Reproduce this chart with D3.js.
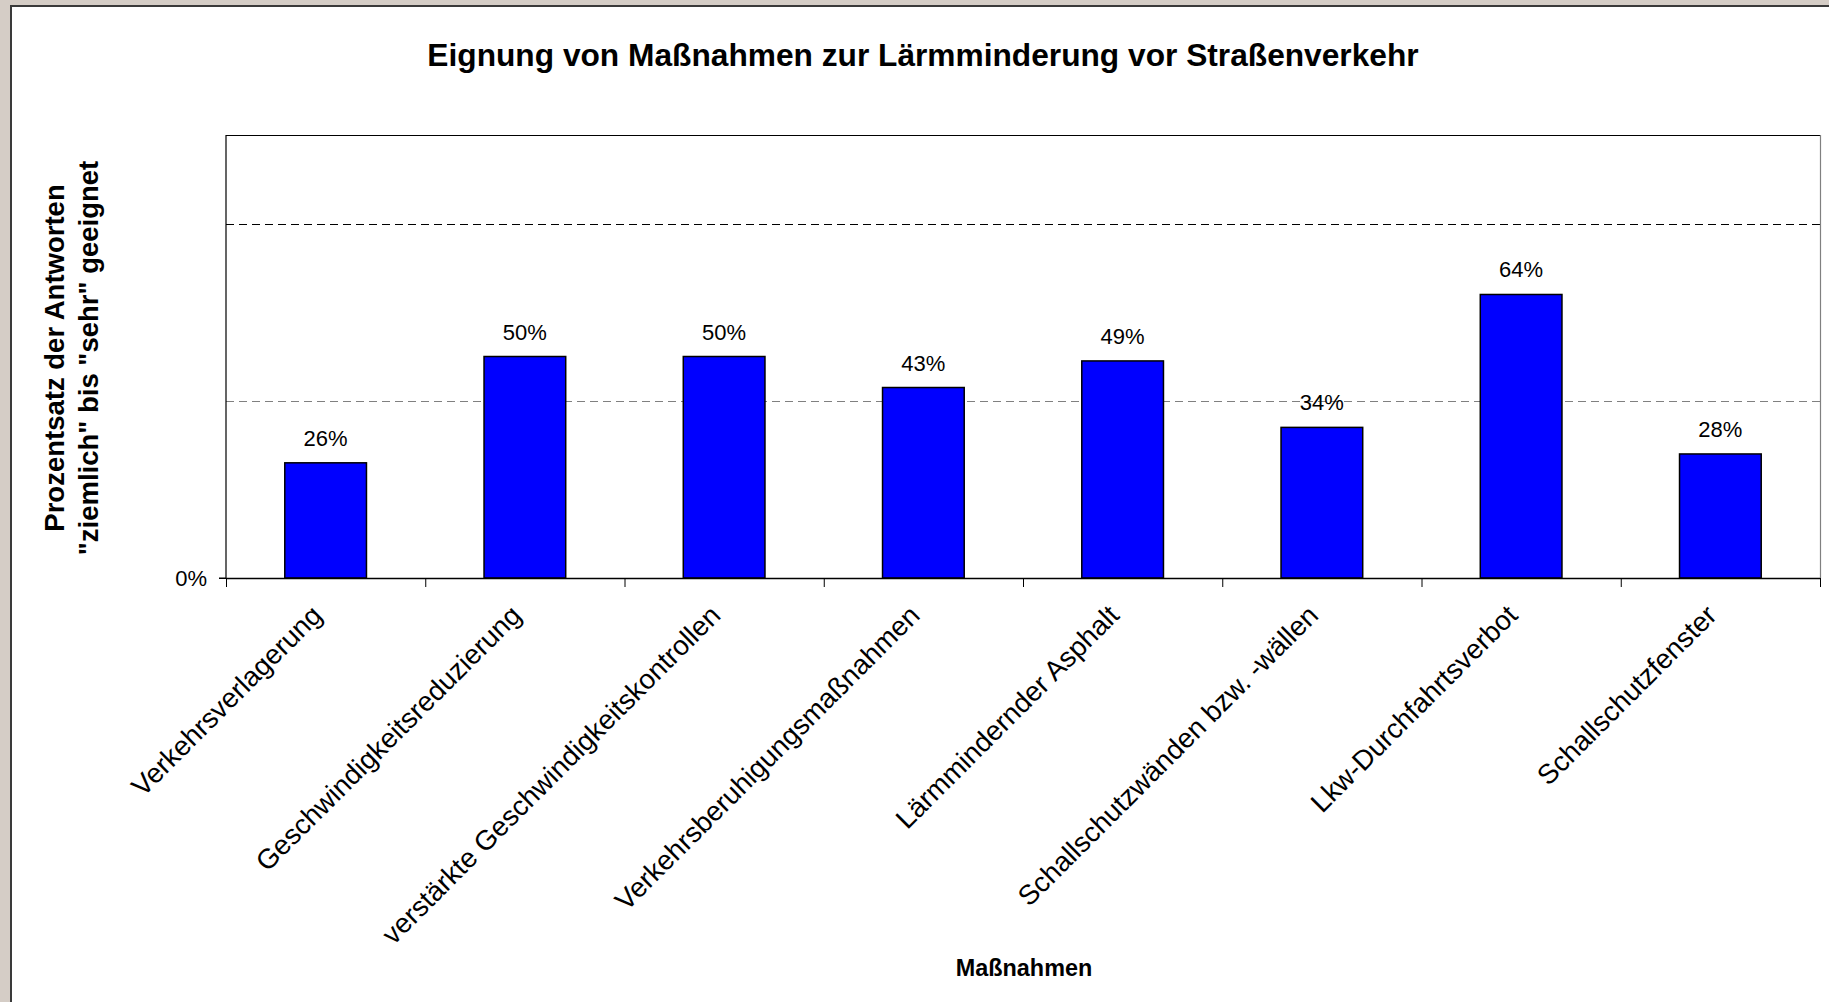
<!DOCTYPE html>
<html>
<head>
<meta charset="utf-8">
<script src="https://cdn.jsdelivr.net/npm/d3@7"></script>
<style>
  html, body { margin: 0; padding: 0; background: #d5cdc6; }
  svg { display: block; }
  text { font-family: "Liberation Sans", Arial, sans-serif; fill: #000; }
</style>
</head>
<body>
<script>
// ---- data ----
const categories = [
  "Verkehrsverlagerung",
  "Geschwindigkeitsreduzierung",
  "verstärkte Geschwindigkeitskontrollen",
  "Verkehrsberuhigungsmaßnahmen",
  "Lärmmindernder Asphalt",
  "Schallschutzwänden bzw. -wällen",
  "Lkw-Durchfahrtsverbot",
  "Schallschutzfenster"
];
const values = [0.26, 0.50, 0.50, 0.43, 0.49, 0.34, 0.64, 0.28];
const yTickValues = [0];
const gridValues = [0.4, 0.8];
const titleText = "Eignung von Maßnahmen zur Lärmminderung vor Straßenverkehr";
const yTitleLines = ["Prozentsatz der Antworten", "\"ziemlich\" bis \"sehr\" geeignet"];
const xTitleText = "Maßnahmen";

// ---- layout ----
const W = 1829, H = 1002;
const plot = { left: 226, right: 1820, top: 135, bottom: 578 };

const svg = d3.select("body").append("svg").attr("width", W).attr("height", H);

// chart area (white) with dark left/top border
svg.append("rect").attr("x", 10).attr("y", 5).attr("width", W - 10).attr("height", H - 5).attr("fill", "#ffffff");
svg.append("line").attr("x1", 11).attr("x2", 11).attr("y1", 5).attr("y2", H).attr("stroke", "#3a3a3a").attr("stroke-width", 2);
svg.append("line").attr("x1", 10).attr("x2", W).attr("y1", 6).attr("y2", 6).attr("stroke", "#3a3a3a").attr("stroke-width", 2);

const x = d3.scaleBand().domain(categories).range([plot.left, plot.right]).paddingInner(0).paddingOuter(0);
const y = d3.scaleLinear().domain([0, 1]).range([plot.bottom, plot.top]);

// gridlines
const gridColors = ["#808080", "#000000"];
svg.append("g").selectAll("line").data(gridValues).join("line")
  .attr("x1", plot.left).attr("x2", plot.right)
  .attr("y1", d => Math.round(y(d)) + 0.5).attr("y2", d => Math.round(y(d)) + 0.5)
  .attr("stroke", (d, i) => gridColors[i])
  .attr("stroke-width", 1)
  .attr("stroke-dasharray", "8,5");

// plot area border
svg.append("line").attr("x1", plot.left).attr("x2", plot.right).attr("y1", plot.top + 0.5).attr("y2", plot.top + 0.5).attr("stroke", "#000").attr("stroke-width", 1.2);
svg.append("line").attr("x1", plot.right + 0.5).attr("x2", plot.right + 0.5).attr("y1", plot.top).attr("y2", plot.bottom).attr("stroke", "#808080").attr("stroke-width", 1.2);

// bars
const barFrac = 0.41;
svg.append("g").selectAll("rect").data(values).join("rect")
  .attr("x", (d, i) => x(categories[i]) + x.bandwidth() * (1 - barFrac) / 2)
  .attr("width", x.bandwidth() * barFrac)
  .attr("y", d => y(d))
  .attr("height", d => y(0) - y(d))
  .attr("fill", "#0000ff")
  .attr("stroke", "#000")
  .attr("stroke-width", 1.5);

// value labels
svg.append("g").selectAll("text").data(values).join("text")
  .attr("x", (d, i) => x(categories[i]) + x.bandwidth() / 2)
  .attr("y", d => y(d) - 17)
  .attr("text-anchor", "middle")
  .style("font-size", "22px")
  .text(d => d3.format(".0%")(d));

// y axis
const yAxis = d3.axisLeft(y).tickValues(yTickValues).tickSize(7).tickPadding(12).tickFormat(d3.format(".0%"));
const gy = svg.append("g").attr("transform", `translate(${plot.left},0)`).call(yAxis);
gy.select(".domain").attr("stroke", "#000").attr("stroke-width", 1.2).attr("d", `M-7,${plot.bottom}H0V${plot.top}`);
gy.selectAll(".tick line").attr("stroke", "#000");
gy.selectAll(".tick text").style("font-size", "22px").style("font-family", "'Liberation Sans', Arial, sans-serif").attr("fill", "#000");

// x axis (ticks between categories)
const boundaries = categories.map(c => x(c)).concat([x.range()[1]]);
const gx = svg.append("g");
gx.append("line").attr("x1", plot.left).attr("x2", plot.right).attr("y1", plot.bottom + 0.5).attr("y2", plot.bottom + 0.5).attr("stroke", "#000").attr("stroke-width", 1.4);
gx.selectAll("line.tk").data(boundaries).join("line").attr("class", "tk")
  .attr("x1", d => d + 0.5).attr("x2", d => d + 0.5)
  .attr("y1", plot.bottom).attr("y2", plot.bottom + 9)
  .attr("stroke", "#000").attr("stroke-width", 1);

// category labels rotated -45
gx.selectAll("text").data(categories).join("text")
  .attr("transform", d => `translate(${x(d) + x.bandwidth() / 2 - 2},${plot.bottom + 39}) rotate(-45)`)
  .attr("text-anchor", "end")
  .style("font-size", "27.7px")
  .text(d => d);

// title
svg.append("text")
  .attr("x", 923).attr("y", 66)
  .attr("text-anchor", "middle")
  .style("font-size", "31.7px").style("font-weight", "bold")
  .text(titleText);

// y title
const yt = svg.append("text")
  .attr("transform", `translate(64,358) rotate(-90)`)
  .attr("text-anchor", "middle")
  .style("font-size", "27.5px").style("font-weight", "bold");
yt.selectAll("tspan").data(yTitleLines).join("tspan")
  .attr("x", 0).attr("dy", (d, i) => i === 0 ? 0 : 34)
  .text(d => d);

// x title
svg.append("text")
  .attr("x", 1024).attr("y", 976)
  .attr("text-anchor", "middle")
  .style("font-size", "23.4px").style("font-weight", "bold")
  .text(xTitleText);
</script>
</body>
</html>
